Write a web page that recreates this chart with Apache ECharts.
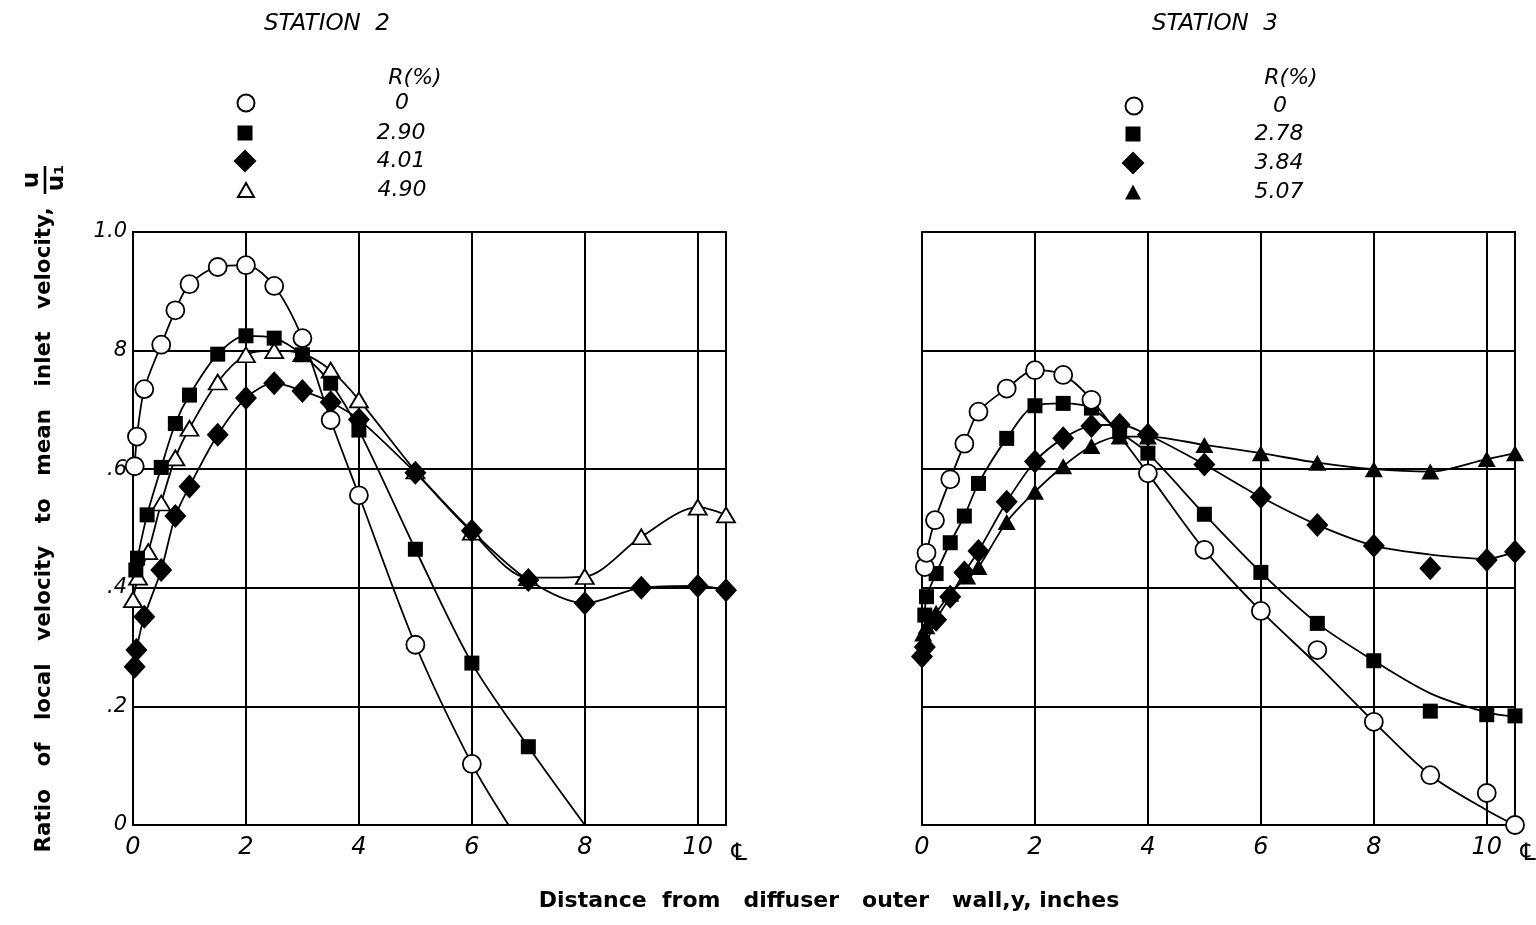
<!DOCTYPE html>
<html>
<head>
<meta charset="utf-8">
<title>Velocity profiles, stations 2 and 3</title>
<script src="https://cdn.jsdelivr.net/npm/echarts@6/dist/echarts.min.js"></script>
<style>
  html, body { margin: 0; padding: 0; background: #fff; }
  #chart { width: 1536px; height: 925px; }
</style>
</head>
<body>
<div id="chart"></div>
<script>
// Axis ticks
const xTickLabels = { 0: '0', 2: '2', 4: '4', 6: '6', 8: '8', 10: '10', 10.5: '\u2104' };
const yTickLabels = { 0: '0', 0.2: '.2', 0.4: '.4', 0.6: '.6', 0.8: '8', 1: '1.0' };

// Station 2 — measured points [y (in), u/u1]
const st2_r0 = [[0.03,0.605],[0.07,0.655],[0.2,0.735],[0.5,0.81],[0.75,0.868],[1.0,0.912],[1.5,0.941],[2.0,0.944],[2.5,0.909],[3.0,0.821],[3.5,0.683],[4.0,0.556],[5.0,0.304],[6.0,0.103]];
const st2_r290 = [[0.05,0.43],[0.08,0.45],[0.25,0.523],[0.5,0.603],[0.75,0.677],[1.0,0.725],[1.5,0.794],[2.0,0.825],[2.5,0.821],[3.0,0.793],[3.5,0.745],[4.0,0.666],[5.0,0.465],[6.0,0.273],[7.0,0.132]];
const st2_r401 = [[0.03,0.267],[0.06,0.295],[0.2,0.351],[0.5,0.43],[0.75,0.521],[1.0,0.571],[1.5,0.658],[2.0,0.72],[2.5,0.745],[3.0,0.732],[3.5,0.713],[4.0,0.684],[5.0,0.594],[6.0,0.496],[7.0,0.413],[8.0,0.374],[9.0,0.40],[10.0,0.403],[10.5,0.396]];
const st2_r490 = [[0.0,0.38],[0.09,0.418],[0.27,0.461],[0.5,0.543],[0.75,0.619],[1.0,0.669],[1.5,0.747],[2.0,0.793],[2.5,0.80],[3.0,0.795],[3.5,0.767],[4.0,0.717],[5.0,0.597],[6.0,0.494],[7.0,0.417],[8.0,0.419],[9.0,0.486],[10.0,0.536],[10.5,0.523]];
// Station 2 — faired curves that run past the last point to the axis
const st2_r0_curve = st2_r0.concat([[6.65,0]]);
const st2_r290_curve = st2_r290.concat([[8.0,0]]);

// Station 3 — measured points
const st3_r0 = [[0.05,0.435],[0.08,0.459],[0.23,0.514],[0.5,0.583],[0.75,0.643],[1.0,0.697],[1.5,0.736],[2.0,0.767],[2.5,0.759],[3.0,0.717],[4.0,0.593],[5.0,0.464],[6.0,0.361],[7.0,0.295],[8.0,0.174],[9.0,0.084],[10.0,0.054],[10.5,0.0]];
const st3_r278 = [[0.05,0.354],[0.08,0.385],[0.25,0.424],[0.5,0.476],[0.75,0.521],[1.0,0.576],[1.5,0.652],[2.0,0.707],[2.5,0.711],[3.0,0.703],[3.5,0.663],[4.0,0.627],[5.0,0.524],[6.0,0.426],[7.0,0.34],[8.0,0.277],[9.0,0.192],[10.0,0.186],[10.5,0.184]];
const st3_r384 = [[0.0,0.284],[0.05,0.30],[0.25,0.346],[0.5,0.385],[0.75,0.426],[1.0,0.462],[1.5,0.545],[2.0,0.613],[2.5,0.652],[3.0,0.673],[3.5,0.675],[4.0,0.658],[5.0,0.608],[6.0,0.553],[7.0,0.506],[8.0,0.471],[9.0,0.433],[10.0,0.447],[10.5,0.461]];
const st3_r507 = [[0.02,0.323],[0.08,0.335],[0.25,0.358],[0.5,0.39],[0.8,0.419],[1.0,0.435],[1.5,0.511],[2.0,0.562],[2.5,0.605],[3.0,0.639],[3.5,0.655],[4.0,0.655],[5.0,0.641],[6.0,0.627],[7.0,0.611],[8.0,0.60],[9.0,0.596],[10.0,0.617],[10.5,0.627]];
// Station 3 — faired curves (scattered points left off the curve)
const st3_r0_curve = [[0.05,0.435],[0.08,0.459],[0.23,0.514],[0.5,0.583],[0.75,0.643],[1.0,0.697],[1.5,0.736],[2.0,0.767],[2.5,0.759],[3.0,0.717],[4.0,0.593],[5.0,0.464],[6.0,0.361],[7.0,0.27],[8.0,0.174],[9.0,0.084],[10.0,0.025],[10.5,0.0]];
const st3_r278_curve = [[0.05,0.354],[0.08,0.385],[0.25,0.424],[0.5,0.476],[0.75,0.521],[1.0,0.576],[1.5,0.652],[2.0,0.707],[2.5,0.711],[3.0,0.703],[3.5,0.663],[4.0,0.627],[5.0,0.524],[6.0,0.426],[7.0,0.34],[8.0,0.277],[9.0,0.222],[10.0,0.19],[10.5,0.183]];
const st3_r384_curve = [[0.0,0.284],[0.05,0.30],[0.25,0.346],[0.5,0.385],[0.75,0.426],[1.0,0.462],[1.5,0.545],[2.0,0.613],[2.5,0.652],[3.0,0.673],[3.5,0.675],[4.0,0.658],[5.0,0.608],[6.0,0.553],[7.0,0.506],[8.0,0.471],[9.0,0.456],[10.0,0.449],[10.5,0.461]];

// Legend values R(%)
const st2Legend = ['0', '2.90', '4.01', '4.90'];
const st3Legend = ['0', '2.78', '3.84', '5.07'];

const INK = '#000';
const hand = "'DejaVu Sans', sans-serif";
const plain = "'DejaVu Sans', sans-serif";

const markerStyles = {
  openCircle:   { symbol: 'circle',   symbolSize: 18, itemStyle: { color: '#fff', borderColor: INK, borderWidth: 1.8, opacity: 1 } },
  square:       { symbol: 'rect',     symbolSize: 15, itemStyle: { color: INK, opacity: 1 } },
  diamond:      { symbol: 'diamond',  symbolSize: [22, 24], itemStyle: { color: INK, opacity: 1 } },
  openTriangle: { symbol: 'triangle', symbolSize: [18, 15], itemStyle: { color: '#fff', borderColor: INK, borderWidth: 1.8, opacity: 1 } },
  triangle:     { symbol: 'triangle', symbolSize: [18, 16], itemStyle: { color: INK, opacity: 1 } }
};
// Key icon sizes [w, h]
const keyIcon = { openCircle: [17, 17], square: [15, 15], diamond: [23, 23], openTriangle: [16, 14], triangle: [16, 15] };

function curveSeries(name, data, gi) {
  return {
    name: name, type: 'line', xAxisIndex: gi, yAxisIndex: gi,
    data: data, smooth: 0.3,
    symbol: 'none', lineStyle: { color: INK, width: 1.8 },
    silent: true, z: 2
  };
}
function pointSeries(name, data, gi, style) {
  return Object.assign({
    name: name, type: 'scatter', xAxisIndex: gi, yAxisIndex: gi,
    data: data, z: 5
  }, style);
}

const plotW = 593, plotH = 593, plotTop = 232;

function xAxis(gi) {
  return {
    type: 'value', gridIndex: gi, min: 0, max: 10.5, interval: 2,
    axisLine: { show: true, lineStyle: { color: INK, width: 2 } },
    axisTick: { show: false },
    splitLine: { show: true, lineStyle: { color: INK, width: 2 } },
    axisLabel: {
      margin: 11, color: INK, fontSize: 24, fontStyle: 'italic', fontFamily: hand,
      formatter: v => (v === 10.5 ? '{c|' + xTickLabels[v] + '}' : (xTickLabels[v] ?? '')),
      rich: { c: { fontSize: 24, fontFamily: plain, padding: [6, 0, 0, 26], color: INK } }
    }
  };
}
function yAxis(gi, showLabels) {
  return {
    type: 'value', gridIndex: gi, min: 0, max: 1, interval: 0.2,
    axisLine: { show: true, lineStyle: { color: INK, width: 2 } },
    axisTick: { show: false },
    splitLine: { show: true, lineStyle: { color: INK, width: 2 } },
    axisLabel: {
      show: showLabels, margin: 6, color: INK, fontSize: 21, fontStyle: 'italic', fontFamily: hand,
      formatter: v => yTickLabels[Math.round(v * 10) / 10] ?? ''
    }
  };
}

// One key row: symbol centred at iconX, value centred at textX, row centred at rowY
const keyLabels = {};
function keyRow(name, label, size, iconX, textX, rowY) {
  keyLabels[name] = label;
  const [w, h] = size;
  const lineH = 26;
  return {
    orient: 'vertical', left: iconX - w / 2, top: rowY - lineH / 2,
    itemWidth: w, itemHeight: h, selectedMode: false, padding: 0,
    data: [name],
    formatter: n => '{v|' + keyLabels[n] + '}',
    textStyle: {
      rich: { v: { width: 60, height: lineH, lineHeight: lineH, align: 'center', fontSize: 22, fontStyle: 'italic', fontFamily: hand, color: INK,
                   padding: [0, 0, 0, textX - 30 - 5 - iconX - w / 2] } }
    }
  };
}

const s2Names = ['Station 2, R=0', 'Station 2, R=2.90', 'Station 2, R=4.01', 'Station 2, R=4.90'];
const s3Names = ['Station 3, R=0', 'Station 3, R=2.78', 'Station 3, R=3.84', 'Station 3, R=5.07'];
const s2Kinds = ['openCircle', 'square', 'diamond', 'openTriangle'];
const s3Kinds = ['openCircle', 'square', 'diamond', 'triangle'];
const s2RowY = [103, 133, 161, 190];
const s3RowY = [106, 134, 163, 192];

const legends = [];
s2Names.forEach((n, i) => legends.push(keyRow(n, st2Legend[i], keyIcon[s2Kinds[i]], 245, 401, s2RowY[i])));
s3Names.forEach((n, i) => legends.push(keyRow(n, st3Legend[i], keyIcon[s3Kinds[i]], 1133, 1279, s3RowY[i])));

const titleText = { fontSize: 23, fontWeight: 'normal', fontStyle: 'italic', fontFamily: hand, color: INK };
const headText = { fontSize: 22, fontWeight: 'normal', fontStyle: 'italic', fontFamily: hand, color: INK };

const option = {
  backgroundColor: '#fff',
  animation: false,
  title: [
    { text: 'STATION  2', left: 322, top: 8, textAlign: 'center', textStyle: titleText },
    { text: 'STATION  3', left: 1210, top: 8, textAlign: 'center', textStyle: titleText },
    { text: 'R(%)', left: 410, top: 62, textAlign: 'center', textStyle: headText },
    { text: 'R(%)', left: 1286, top: 62, textAlign: 'center', textStyle: headText }
  ],
  legend: legends,
  grid: [
    { left: 133, top: plotTop, width: plotW, height: plotH, show: true, borderColor: INK, borderWidth: 2, outerBoundsMode: 'none' },
    { left: 922, top: plotTop, width: plotW, height: plotH, show: true, borderColor: INK, borderWidth: 2, outerBoundsMode: 'none' }
  ],
  xAxis: [xAxis(0), xAxis(1)],
  yAxis: [yAxis(0, true), yAxis(1, false)],
  series: [
    curveSeries('Station 2 curve R=0', st2_r0_curve, 0),
    curveSeries('Station 2 curve R=2.90', st2_r290_curve, 0),
    curveSeries('Station 2 curve R=4.01', st2_r401, 0),
    curveSeries('Station 2 curve R=4.90', st2_r490, 0),
    pointSeries(s2Names[3], st2_r490, 0, markerStyles.openTriangle),
    pointSeries(s2Names[2], st2_r401, 0, markerStyles.diamond),
    pointSeries(s2Names[1], st2_r290, 0, markerStyles.square),
    pointSeries(s2Names[0], st2_r0, 0, markerStyles.openCircle),

    curveSeries('Station 3 curve R=0', st3_r0_curve, 1),
    curveSeries('Station 3 curve R=2.78', st3_r278_curve, 1),
    curveSeries('Station 3 curve R=3.84', st3_r384_curve, 1),
    curveSeries('Station 3 curve R=5.07', st3_r507, 1),
    pointSeries(s3Names[3], st3_r507, 1, markerStyles.triangle),
    pointSeries(s3Names[2], st3_r384, 1, markerStyles.diamond),
    pointSeries(s3Names[1], st3_r278, 1, markerStyles.square),
    pointSeries(s3Names[0], st3_r0, 1, markerStyles.openCircle)
  ],
  graphic: [
    // Shared y-axis title, read bottom to top, ending in the fraction u/u1
    {
      type: 'group', x: 44, y: 530, rotation: Math.PI / 2,
      children: [
        { type: 'text', x: 0, y: 0, style: { text: 'Ratio   of   local   velocity   to   mean   inlet   velocity,', fontSize: 21.5, fontWeight: 'bold', fontFamily: plain, fill: INK, align: 'center', verticalAlign: 'middle' } },
        { type: 'text', x: 350, y: -12, style: { text: 'u', fontSize: 23, fontWeight: 'bold', fontFamily: plain, fill: INK, align: 'center', verticalAlign: 'middle' } },
        { type: 'line', shape: { x1: 336, y1: 1, x2: 364, y2: 1 }, style: { stroke: INK, lineWidth: 2.6 } },
        { type: 'text', x: 352, y: 13, style: { text: 'u\u2081', fontSize: 23, fontWeight: 'bold', fontFamily: plain, fill: INK, align: 'center', verticalAlign: 'middle' } }
      ]
    },
    // Shared x-axis title
    {
      type: 'text', x: 829, y: 901,
      style: { text: 'Distance  from   diffuser   outer   wall,y, inches', fontSize: 22, fontWeight: 'bold', fontFamily: plain, fill: INK, align: 'center', verticalAlign: 'middle' }
    }
  ]
};

const chart = echarts.init(document.getElementById('chart'), null, { renderer: 'canvas' });
chart.setOption(option);
</script>
</body>
</html>
